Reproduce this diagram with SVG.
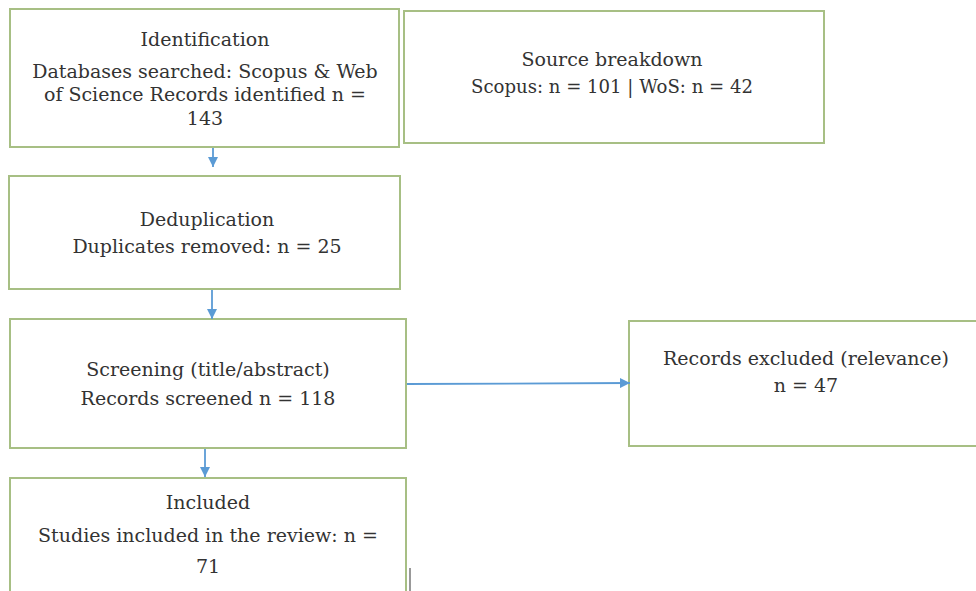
<svg xmlns="http://www.w3.org/2000/svg" width="976" height="591" viewBox="0 0 976 591">
  <style>
    .box { fill: #ffffff; stroke: #a7bf84; stroke-width: 2; }
    .lbl { font-family: "DejaVu Serif", "Liberation Serif", serif; font-size: 19px; fill: #333333; text-anchor: middle; }
    .conn { stroke: #5b9bd5; stroke-width: 1.8; fill: none; }
  </style>
  <defs>
    <marker id="arrow" viewBox="0 0 10 10" refX="10" refY="5" markerWidth="11" markerHeight="10" markerUnits="userSpaceOnUse" orient="auto">
      <path d="M0,0 L10,5 L0,10 z" fill="#5b9bd5"/>
    </marker>
  </defs>
  <rect width="976" height="591" fill="#ffffff"/>

  <g id="identification">
    <rect class="box" x="10" y="9" width="389" height="138"/>
    <text class="lbl" x="205" y="46">Identification</text>
    <text class="lbl" x="205" y="78">Databases searched: Scopus &amp; Web</text>
    <text class="lbl" x="205" y="101">of Science Records identified n =</text>
    <text class="lbl" x="205" y="125">143</text>
  </g>

  <g id="source-breakdown">
    <rect class="box" x="404" y="11" width="420" height="132"/>
    <text class="lbl" x="612" y="66">Source breakdown</text>
    <text class="lbl" x="612" y="93" textLength="282" lengthAdjust="spacingAndGlyphs">Scopus: n = 101 | WoS: n = 42</text>
  </g>

  <g id="deduplication">
    <rect class="box" x="9" y="176" width="391" height="113"/>
    <text class="lbl" x="207" y="226">Deduplication</text>
    <text class="lbl" x="207" y="253">Duplicates removed: n = 25</text>
  </g>

  <g id="screening">
    <rect class="box" x="10" y="319" width="396" height="129"/>
    <text class="lbl" x="208" y="376">Screening (title/abstract)</text>
    <text class="lbl" x="208" y="405">Records screened n = 118</text>
  </g>

  <g id="excluded">
    <rect class="box" x="629" y="321" width="350" height="125"/>
    <text class="lbl" x="806" y="365">Records excluded (relevance)</text>
    <text class="lbl" x="806" y="392">n = 47</text>
  </g>

  <g id="included">
    <rect class="box" x="10" y="478" width="396" height="120"/>
    <text class="lbl" x="208" y="509">Included</text>
    <text class="lbl" x="208" y="542">Studies included in the review: n =</text>
    <text class="lbl" x="208" y="573">71</text>
  </g>

  <g id="connectors">
    <line class="conn" x1="213" y1="148" x2="213" y2="167" marker-end="url(#arrow)"/>
    <line class="conn" x1="212" y1="290" x2="212" y2="319" marker-end="url(#arrow)"/>
    <line class="conn" x1="407" y1="384" x2="630" y2="383" marker-end="url(#arrow)"/>
    <line class="conn" x1="205" y1="449" x2="205" y2="477" marker-end="url(#arrow)"/>
    <line x1="410" y1="568" x2="410" y2="591" stroke="#777777" stroke-width="1.5"/>
  </g>
</svg>
